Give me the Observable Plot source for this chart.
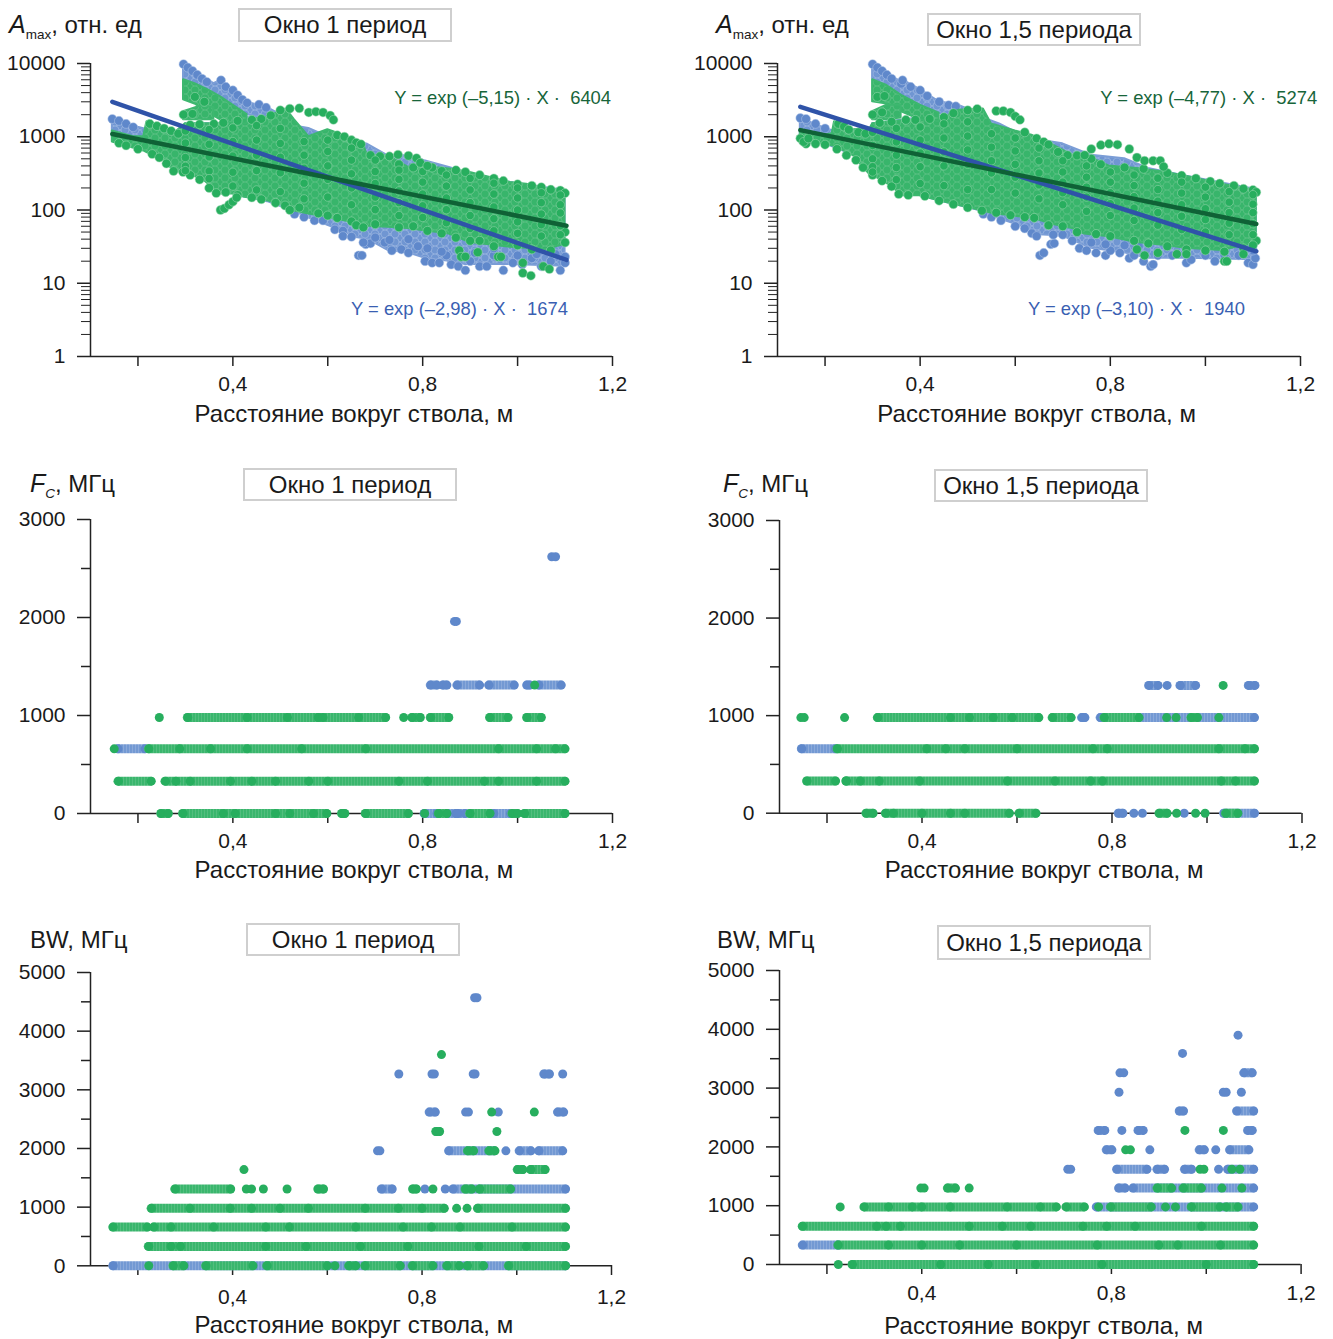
<!DOCTYPE html>
<html lang="ru"><head><meta charset="utf-8">
<script src="https://cdn.jsdelivr.net/npm/d3@7"></script>
<script src="https://cdn.jsdelivr.net/npm/@observablehq/plot@0.6"></script>
<style>
html,body{margin:0;padding:0;background:#fff;}
#page{position:relative;width:1333px;height:1339px;overflow:hidden;font-family:"Liberation Sans",Arial,sans-serif;color:#1a1a1a;}
#page svg{position:absolute;overflow:visible;background:transparent;}
.box{position:absolute;box-sizing:border-box;border:2px solid #cfcfcf;background:#fff;text-align:center;font-size:24px;z-index:2;display:flex;align-items:center;justify-content:center;}
.ylab{position:absolute;font-size:24px;white-space:nowrap;z-index:2;line-height:30px;}
.ylab>i{font-size:25px;}
.ylab sub{font-size:13.5px;vertical-align:-6px;line-height:0;}
.ylab sub i{font-size:13.5px;}
</style></head><body><div id="page"><svg width="0" height="0"><defs>
<pattern id="gCloud" width="10" height="8" patternUnits="userSpaceOnUse"><rect width="10" height="8" fill="#3db76f"/><circle cx="0" cy="0" r="4" fill="#38b56b" stroke="#6cc58f" stroke-width=".5"/><circle cx="10" cy="0" r="4" fill="#38b56b" stroke="#6cc58f" stroke-width=".5"/><circle cx="0" cy="8" r="4" fill="#38b56b" stroke="#6cc58f" stroke-width=".5"/><circle cx="10" cy="8" r="4" fill="#38b56b" stroke="#6cc58f" stroke-width=".5"/><circle cx="5" cy="4" r="4" fill="#38b56b" stroke="#6cc58f" stroke-width=".5"/></pattern>
<pattern id="bCloud" width="10" height="8" patternUnits="userSpaceOnUse"><rect width="10" height="8" fill="#7b9dd6"/><circle cx="0" cy="0" r="4" fill="#7096d2" stroke="#adc3e6" stroke-width=".5"/><circle cx="10" cy="0" r="4" fill="#7096d2" stroke="#adc3e6" stroke-width=".5"/><circle cx="0" cy="8" r="4" fill="#7096d2" stroke="#adc3e6" stroke-width=".5"/><circle cx="10" cy="8" r="4" fill="#7096d2" stroke="#adc3e6" stroke-width=".5"/><circle cx="5" cy="4" r="4" fill="#7096d2" stroke="#adc3e6" stroke-width=".5"/></pattern>
<pattern id="gStrip" width="3" height="3" patternUnits="userSpaceOnUse"><rect width="3" height="3" fill="#3ab66d"/><rect width=".7" height="3" fill="#5cc286"/></pattern>
<pattern id="bStrip" width="3" height="3" patternUnits="userSpaceOnUse"><rect width="3" height="3" fill="#7399d3"/><rect width=".7" height="3" fill="#94b0de"/></pattern>
</defs></svg></div>
<script>
const BLUE="#5f88cb",GREEN="#27ae5e",LINE_B="#2f53a8",LINE_G="#0f6236",TXT_B="#3a5fb2",TXT_G="#17653a";
const xTicks=[0.2,0.4,0.6,0.8,1.0,1.2], xLabelled=[0.4,0.8,1.2];
const xTitle="Расстояние вокруг ствола, м";
const logMajor=[1,10,100,1000,10000];
const logMinor=[2,3,4,5,6,7,8,9,20,30,40,50,60,70,80,90,200,300,400,500,600,700,800,900,2000,3000,4000,5000,6000,7000,8000,9000];

/* Amax, window 1 period: envelopes [x, high, low] */
const a1BlueEnv=[[.146,1750,1000],[.2,1350,800],[.253,1100,600],[.29,1100,400],[.3,1500,400],[.34,1500,300],[.374,1500,200],[.4,1700,170],[.425,1800,150],[.473,1900,130],[.53,1400,95],[.56,1300,78],[.6,1000,62],[.63,950,52],[.66,850,42],[.684,790,40],[.727,550,28],[.77,550,26],[.804,470,22],[.856,380,20],[.89,326,18],[.985,238,18],[1.1,185,17]];
const a1BlueBand=[[.296,9800,6000],[.33,7000,4200],[.36,5300,3200],[.375,5900,3000],[.4,4300,2400],[.43,2950,2000],[.473,2500,1800],[.5,2000,1700]];
const a1GreenEnv=[[.146,1200,850],[.19,1000,700],[.212,1000,640],[.219,1600,610],[.253,1300,480],[.279,1150,330],[.3,1500,330],[.34,1500,250],[.374,1500,165],[.4,1600,165],[.425,1700,149],[.473,1835,134],[.512,2400,115],[.53,1700,97],[.56,1000,88],[.6,1250,80],[.615,1150,76],[.64,980,70],[.675,790,62],[.684,550,60],[.727,550,58],[.77,382,56],[.804,390,52],[.856,362,47],[.9,326,36],[.985,238,31],[1.019,225,30],[1.062,195,29],[1.1,183,34]];
const a1GreenBandA=[[.296,6000,3200],[.32,5300,2800],[.35,4300,2100],[.374,3500,1700],[.4,2700,1500],[.43,2000,1500]];
const a1GreenBandB=[[.296,2200,1700],[.33,2600,1700],[.36,2500,1700]];
const a1GreenTop=[[.225,1500],[.24,1400],[.255,1300],[.27,1200],[.285,1100],[.31,1450],[.33,1480],[.36,1500],[.38,1550],[.41,1650],[.44,1700],[.46,1750],[.48,1950],[.5,2300],[.62,1050],[.635,1000],[.65,900],[.66,830],[.67,790],[.69,560],[.71,540],[.73,540],[.75,420],[.78,380],[.82,380],[.84,340],[.87,350],[.89,330],[.92,300],[.95,270],[.97,250],[1.0,225],[1.03,215],[1.05,205],[1.07,190],[1.09,185],[1.1,170]];
const a1GreenLow=[[.16,820],[.175,760],[.2,680],[.23,580],[.245,520],[.26,430],[.275,340],[.295,330],[.31,300],[.33,260],[.35,200],[.365,170],[.385,175],[.41,160],[.44,148],[.46,140],[.49,125],[.51,115],[.52,100],[.54,108],[.58,90],[.6,84],[.62,78],[.65,70],[.66,62],[.7,64],[.75,58],[.78,60],[.81,52],[.84,48],[.87,42],[.9,38],[.92,38],[.95,32],[1.0,33],[1.03,29],[1.07,28],[1.1,36],[1.1,50]];
const a1TrackX=[.3,.35,.4,.45,.5,.55,.6,.65,.7,.75,.8,.85,.9,.95,1,1.05,1.09];
const a1Track1=[1200,1250,1320,1420,1300,860,900,700,480,350,335,300,270,232,200,172,160];
const a1Track2=[820,790,860,900,810,560,630,480,335,262,240,212,188,165,146,126,118];
const a1Track3=[520,530,545,560,525,372,400,312,230,182,165,146,126,110,100,88,91];
const a1Track4=[395,340,328,345,322,232,262,200,150,126,114,101,84,76,69,63,61];
const a1Track5=[345,268,212,188,178,142,150,118,101,84,79,67,56,52,48,44,46];
const a1GreenDots=[[.52,2420],[.54,2450],[.56,2150],[.575,2200],[.59,2150],[.605,1950],[.612,1700],[.748,570],[.77,550],[.787,510],[.795,440],[.81,400],[.374,100],[.382,105],[.392,118],[.4,130],[.408,148],[.675,58],[.877,28],[.881,23],[.89,23],[.916,26.5],[.959,23],[.965,23],[1.011,19],[1.011,13.8],[1.028,12.7],[1.054,17],[1.067,15.6],[.32,3500],[.34,3000],[.296,2000],[.315,2050]];
const a1BlueDots=[[.146,1750],[.16,1650],[.175,1500],[.19,1350],[.296,9800],[.305,8800],[.315,7900],[.325,7000],[.335,6200],[.345,5600],[.375,5900],[.385,4800],[.4,4300],[.41,3700],[.42,3200],[.43,2900],[.455,2750],[.47,2500],[.665,24],[.672,24],[.68,34],[.69,35],
 [.53,88],[.55,80],[.572,72],[.59,72],[.615,54],[.632,52],[.632,44],[.65,43],[.675,36],[.7,42],[.72,36],[.735,28],[.755,29],[.77,26],[.79,32],[.805,20],[.82,19],[.835,19],[.85,24],[.86,18],[.875,17],[.89,15],[.9,20],[.92,17],[.935,17],[.95,24],[.97,15],[.99,19],[1.01,18],[1.03,22],[1.05,17],[1.07,20],[1.09,15],[1.1,19],[1.1,23],[1.08,25],[.73,39],[.77,40],[.81,30],[.84,27],[.88,26],[.91,26],[.95,30],[1,24],[1.04,25]];

/* Amax, window 1.5 periods */
const a2BlueEnv=[[.148,1800,1000],[.2,1300,800],[.26,1000,560],[.295,1100,400],[.3,1500,400],[.338,1600,300],[.363,1700,170],[.397,1800,160],[.44,1900,134],[.482,2000,115],[.533,1800,95],[.567,1500,76],[.62,1000,58],[.65,900,46],[.7,800,44],[.76,560,30],[.83,500,26],[.88,370,22],[.96,290,22],[1.107,190,21]];
const a2BlueBand=[[.3,9800,6200],[.33,7300,4800],[.36,5600,3300],[.365,5900,3400],[.4,4400,2700],[.44,3000,2100],[.48,2700,1900],[.53,2000,1700]];
const a2GreenEnv=[[.148,1250,800],[.2,1050,800],[.215,1100,750],[.22,1600,750],[.26,1250,550],[.295,1300,300],[.3,1500,300],[.338,1600,215],[.363,1650,157],[.397,1700,157],[.44,1700,134],[.482,2300,115],[.533,2400,97],[.55,1500,90],[.6,1200,82],[.635,1050,78],[.678,780,64],[.72,560,56],[.746,560,47],[.797,400,43],[.856,370,36],[.912,330,33],[.959,290,30],[1.035,225,28],[1.107,185,36]];
const a2GreenBandA=[[.3,6000,3000],[.33,5000,2800],[.36,3700,2200],[.4,2700,1700],[.44,2100,1600]];
const a2GreenBandB=[[.3,2200,1700],[.33,2700,1700],[.36,2700,1800]];
const a2GreenTop=[[.228,1500],[.24,1380],[.25,1250],[.27,1150],[.285,1100],[.315,1550],[.34,1600],[.37,1700],[.39,1700],[.42,1750],[.45,1850],[.47,2100],[.5,2300],[.52,2400],[.62,1150],[.645,950],[.66,850],[.67,780],[.69,620],[.71,560],[.73,555],[.76,500],[.78,420],[.83,380],[.87,365],[.92,320],[.95,295],[.98,270],[1.01,245],[1.03,230],[1.06,215],[1.08,195],[1.1,188],[1.107,175]];
const a2GreenLow=[[.16,800],[.18,800],[.2,780],[.225,680],[.245,560],[.265,480],[.28,380],[.3,300],[.32,250],[.34,210],[.355,165],[.375,160],[.41,155],[.44,134],[.47,120],[.5,108],[.53,98],[.56,92],[.59,85],[.62,80],[.64,78],[.67,62],[.7,60],[.73,50],[.77,47],[.8,44],[.85,38],[.88,35],[.92,32],[.96,29],[1,28],[1.04,27],[1.08,30],[1.107,38]];
const a2TrackX=[.3,.35,.4,.45,.5,.55,.6,.65,.7,.75,.8,.85,.9,.95,1,1.05,1.1];
const a2Track1=[1150,1300,1360,1500,1600,1100,960,700,470,400,330,300,272,240,205,178,162];
const a2Track2=[760,850,900,960,1020,720,640,470,330,280,240,215,190,170,150,128,120];
const a2Track3=[500,560,600,620,660,470,420,320,240,205,172,152,132,118,104,92,92];
const a2Track4=[390,380,390,400,420,320,280,220,172,150,122,106,92,82,74,66,65];
const a2Track5=[330,260,230,215,190,190,170,142,118,96,84,72,62,54,50,46,46];
const a2GreenDots=[[.56,2250],[.575,2250],[.59,2150],[.6,1900],[.61,1700],[.746,560],[.76,680],[.78,770],[.797,800],[.815,780],[.84,680],[.856,520],[.872,470],[.89,470],[.905,470],[.912,390],[.148,950],[.155,850],[.165,950],[.856,29],[.872,24],[.9,26],[.94,25],[.96,25],[1.04,20],[1.045,20],[1.08,25],[1.1,33],[.31,3500],[.325,3600],[.3,2000],[.32,2150]];
const a2BlueDots=[[.148,1800],[.16,1750],[.18,1500],[.2,1300],[.3,9800],[.31,8800],[.32,7900],[.33,7000],[.34,6200],[.36,5300],[.363,5900],[.38,4800],[.4,4300],[.415,3600],[.44,3000],[.46,2700],[.475,2600],[.652,24],[.66,26],[.675,34],[.682,35],
 [.533,88],[.55,80],[.57,72],[.6,60],[.62,56],[.635,48],[.645,44],[.68,46],[.7,46],[.72,38],[.735,30],[.75,28],[.77,26],[.79,24],[.8,28],[.82,26],[.84,22],[.85,24],[.87,20],[.885,17],[.89,18],[.86,32],[.83,33],[.9,24],[.93,24],[.96,19],[.97,21],[1,24],[1.02,20],[1.04,24],[1.07,24],[1.09,19],[1.1,18],[1.105,22],[1.1,28],[1.09,30],[.79,34],[.76,36]];

/* Fc: runs are [level, x from, x to] */
const f1BlueRuns=[[660,.158,.215],[1310,.817,.83],[1310,.843,.851],[1310,.873,.92],[1310,.94,.993],[1310,1.02,1.026],[1310,1.045,1.092],[0,.804,.83],[0,.851,.87],[0,.875,.89],[0,.95,.985]];
const f1GreenRuns=[[980,.305,.722],[980,.778,.795],[980,.817,.855],[980,.942,.98],[980,1.02,1.05],[660,.223,1.1],[330,.159,.228],[330,.258,1.1],[0,.249,.264],[0,.295,.598],[0,.63,.636],[0,.68,.77],[0,.834,.851],[0,.9,.942],[0,.989,1.0],[0,1.015,1.1]];
const f1BlueDots=[[.871,1960],[.867,1960],[1.072,2620],[1.08,2620]];
const f1GreenDots=[[.245,980],[.76,980],[1.036,1310],[.15,660],[.804,0],[.43,980],[.515,980],[.58,980],[.59,980],[.665,980],[.288,660],[.353,660],[.43,660],[.545,660],[.68,660],[.96,660],[1.04,660],[1.08,660],[.28,330],[.31,330],[.395,330],[.44,330],[.49,330],[.56,330],[.6,330],[.75,330],[.81,330],[.93,330],[.96,330],[1.04,330],[.38,0],[.405,0],[.49,0],[.52,0],[.57,0]];
const f2BlueRuns=[[1310,.878,.897],[1310,.944,.976],[1310,1.088,1.101],[980,.737,.743],[980,.776,1.1],[660,.147,.218],[0,.814,.823],[0,1.036,1.1]];
const f2GreenRuns=[[980,.307,.646],[980,.675,.714],[980,.784,.857],[980,.967,.98],[660,.222,1.1],[330,.158,.218],[330,.241,1.1],[0,.283,.297],[0,.324,.584],[0,.605,.64],[0,.9,.916],[0,1.04,1.065]];
const f2BlueDots=[[.916,1310],[.846,0],[.864,0],[.952,0]];
const f2GreenDots=[[.145,980],[.152,980],[.237,980],[1.034,1310],[.915,980],[.935,980],[1.025,980],[.936,0],[.976,0],[.996,0],[.46,980],[.5,980],[.55,980],[.59,980],[.41,660],[.45,660],[.49,660],[.6,660],[.76,660],[.79,660],[1.025,660],[1.08,660],[.24,330],[.27,330],[.31,330],[.395,330],[.58,330],[.68,330],[.755,330],[.78,330],[1.03,330],[1.06,330],[.34,0],[.4,0],[.46,0],[.49,0]];

/* BW */
const b1BlueRuns=[[0,.148,1.103],[1310,.715,.737],[1310,.866,1.103],[1960,.857,.952],[1960,1.006,1.03],[1960,1.047,1.097],[2620,.816,.828],[2620,1.087,1.099],[3270,1.058,1.069]];
const b1GreenRuns=[[0,.275,.297],[0,.344,.443],[0,.473,.6],[0,.646,.66],[0,.68,.754],[0,.78,.823],[0,.853,.879],[0,.896,.93],[0,.983,1.103],[330,.223,1.103],[660,.148,.22],[660,.234,1.103],[980,.229,.847],[980,.918,1.103],[1310,.279,.396],[1310,.581,.592],[1310,.781,.788],[1310,.892,.905],[1310,.922,.987],[1640,1.002,1.013],[1640,1.03,1.06],[1960,.897,.909],[1960,.942,.954],[2290,.83,.837]];
const b1BlueDots=[[.911,4570],[.916,4570],[.751,3270],[.821,3270],[.826,3270],[.908,3270],[.912,3270],[1.097,3270],[.892,2620],[.898,2620],[.961,2620],[.706,1960],[.711,1960],[.977,1960],[.806,1310],[.849,1310]];
const b1GreenDots=[[.841,3600],[.947,2620],[1.037,2620],[.958,2290],[.424,1640],[.429,1310],[.44,1310],[.465,1310],[.515,1310],[.823,1310],[.873,980],[.895,980],[.223,0],[.616,0],[.31,980],[.395,980],[.44,980],[.5,980],[.56,980],[.68,980],[.75,980],[.8,980],[.27,660],[.36,660],[.47,660],[.52,660],[.66,660],[.76,660],[.82,660],[.88,660],[.99,660],[.27,330],[.29,330],[.47,330],[.555,330],[.67,330],[.77,330],[.92,330],[1.02,330]];
const b2BlueRuns=[[330,.149,.224],[980,.769,1.1],[1300,.816,.829],[1300,.846,1.1],[1620,.812,.875],[1620,.897,.912],[1620,.955,.969],[1620,1.046,1.1],[1950,.79,.801],[1950,.986,.996],[1950,1.05,1.09],[2280,.773,.786],[2280,.857,.867],[2280,1.088,1.097],[2610,.944,.952],[2610,1.065,1.1],[3260,1.08,1.097]];
const b2GreenRuns=[[0,.254,1.1],[330,.224,1.1],[650,.149,1.1],[980,.279,.684],[980,.705,.743],[980,.799,.884],[980,.969,1.029],[980,1.042,1.067],[1300,.455,.471],[1300,.897,.927],[1300,.952,.99]];
const b2BlueDots=[[1.067,3900],[.95,3590],[.818,3260],[.826,3260],[.816,2930],[1.036,2930],[1.042,2930],[1.074,2930],[.822,2280],[.881,1950],[1.02,1950],[.708,1620],[.714,1620],[1.026,1620]];
const b2GreenDots=[[.955,2280],[1.036,2280],[.83,1950],[.84,1950],[.987,1620],[.995,1620],[1.054,1620],[1.071,1620],[.398,1300],[.405,1300],[.5,1300],[1.033,1300],[1.075,1300],[.228,980],[.773,980],[.914,980],[.935,980],[.224,0],[.33,980],[.38,980],[.4,980],[.46,980],[.58,980],[.65,980],[.305,650],[.325,650],[.355,650],[.5,650],[.57,650],[.63,650],[.74,650],[.79,650],[.85,650],[.99,650],[.33,330],[.4,330],[.48,330],[.6,330],[.77,330],[.9,330],[.94,330],[1.03,330],[.44,0],[.54,0],[.64,0],[.78,0],[1.0,0]];

const fmtX=d=>xLabelled.includes(d)?d.toFixed(1).replace(".",","):"";
const R=4.5;

function axes(c){
  return [
    Plot.ruleY([c.yDomain[0]],{stroke:"#222",strokeWidth:1.5}),
    Plot.ruleX([0.1],{stroke:"#222",strokeWidth:1.5}),
    Plot.axisX(xTicks,{anchor:"bottom",tickSize:10,tickPadding:c.tickPad,tickFormat:fmtX,stroke:"#222",strokeWidth:1.5,label:null,fontSize:21,fill:"#1a1a1a"}),
    Plot.axisY(c.major,{anchor:"left",tickSize:13,tickPadding:12,tickFormat:d=>String(d),stroke:"#222",strokeWidth:1.5,label:null,fontSize:21,fill:"#1a1a1a"}),
    Plot.axisY(c.minor,{anchor:"left",tickSize:9,tickFormat:()=>"",stroke:"#222",strokeWidth:c.log?1:1.5,label:null}),
    Plot.text([{x:c.titleX}],{x:"x",frameAnchor:"bottom",dy:c.titleDy,text:()=>xTitle,fontSize:24,fill:"#1a1a1a",lineAnchor:"middle"})
  ];
}
function ampMarks(c){
  const area=(rows,col)=>Plot.areaY(rows,{x:d=>d[0],y1:d=>d[1],y2:d=>d[2],fill:`url(#${col}Cloud)`,stroke:col==="g"?"#3db76f":"#7b9dd6",strokeWidth:2,strokeLinejoin:"round"});
  const gdots=rows=>Plot.dot(rows,{x:d=>d[0],y:d=>d[1],r:R,fill:GREEN,stroke:"#a6dcbb",strokeWidth:.5});
  const trackDots=ys=>Plot.dot(c.trackX.map((x,i)=>({x,y:ys[i]})),{x:"x",y:"y",r:4.2,fill:GREEN,stroke:"#8ed3a8",strokeWidth:.6});
  return [
    ...axes(c),
    area(c.blueEnv,"b"),area(c.blueBand,"b"),
    Plot.dot(c.blueDots,{x:d=>d[0],y:d=>d[1],r:R,fill:BLUE,stroke:"#b5c9e8",strokeWidth:.5}),
    area(c.greenEnv,"g"),area(c.greenBandA,"g"),area(c.greenBandB,"g"),
    gdots(c.greenTop),gdots(c.greenLow),
    ...c.tracks.map(trackDots),
    gdots(c.greenDots),
    Plot.line(c.lineB,{x:d=>d[0],y:d=>d[1],stroke:LINE_B,strokeWidth:4.5}),
    Plot.line(c.lineG,{x:d=>d[0],y:d=>d[1],stroke:LINE_G,strokeWidth:4.5}),
    Plot.text([c.eqG],{x:d=>d[0],y:d=>d[1],text:d=>d[2],textAnchor:"end",fill:TXT_G,fontSize:18.4}),
    Plot.text([c.eqB],{x:d=>d[0],y:d=>d[1],text:d=>d[2],textAnchor:"end",fill:TXT_B,fontSize:18.4})
  ];
}
function stripMarks(c){
  const ribbons=(rows,id)=>Plot.ruleY(rows,{y:d=>d[0],x1:d=>d[1],x2:d=>d[2],stroke:`url(#${id})`,strokeWidth:9,strokeLinecap:"round"});
  return [
    ...axes(c),
    ribbons(c.blueRuns,"bStrip"),
    Plot.dot(c.blueRuns,{x:d=>d[1],y:d=>d[0],r:R,fill:BLUE}),
    Plot.dot(c.blueRuns,{x:d=>d[2],y:d=>d[0],r:R,fill:BLUE}),
    Plot.dot(c.blueDots,{x:d=>d[0],y:d=>d[1],r:R,fill:BLUE}),
    ribbons(c.greenRuns,"gStrip"),
    Plot.dot(c.greenRuns,{x:d=>d[1],y:d=>d[0],r:R,fill:GREEN}),
    Plot.dot(c.greenRuns,{x:d=>d[2],y:d=>d[0],r:R,fill:GREEN}),
    Plot.dot(c.greenDots,{x:d=>d[0],y:d=>d[1],r:R,fill:GREEN})
  ];
}
const page=document.getElementById("page");
function draw(c,marks){
  const mL=c.side==="L"?c.x0:85, left=c.x0-mL, mT=25, mR=c.side==="L"?20:Math.max(1333-c.x1-1,0);
  const plot=Plot.plot({
    width:Math.round(mL+(c.x1-c.x0)+mR),height:Math.round(mT+(c.yBot-c.yTop)+c.mB),
    marginLeft:mL,marginRight:mR,marginTop:mT,marginBottom:c.mB,
    style:{fontFamily:'"Liberation Sans",Arial,sans-serif',background:"transparent",overflow:"visible"},
    x:{domain:[0.1,1.2]},
    y:c.log?{type:"log",domain:c.yDomain,range:[mT+(c.yBot-c.yTop),mT]}:{domain:c.yDomain,range:[mT+(c.yBot-c.yTop),mT]},
    marks
  });
  plot.style.left=left+"px"; plot.style.top=(c.yTop-mT)+"px";
  page.appendChild(plot);
}
function box(text,l,t,w,h){const d=document.createElement("div");d.className="box";d.style.cssText=`left:${l}px;top:${t}px;width:${w}px;height:${h}px`;d.textContent=text;page.appendChild(d);}
function ylab(html,l,t){const d=document.createElement("div");d.className="ylab";d.style.cssText=`left:${l}px;top:${t}px`;d.innerHTML=html;page.appendChild(d);}

const logCfg={log:true,yDomain:[1,10000],major:logMajor,minor:logMinor,yTop:63,yBot:356,tickPad:10,titleDy:58,mB:70};
const a1={...logCfg,side:"L",x0:90,x1:612,titleX:.655,blueEnv:a1BlueEnv,blueBand:a1BlueBand,greenEnv:a1GreenEnv,greenBandA:a1GreenBandA,greenBandB:a1GreenBandB,greenTop:a1GreenTop,greenLow:a1GreenLow,blueDots:a1BlueDots,greenDots:a1GreenDots,trackX:a1TrackX,tracks:[a1Track1,a1Track2,a1Track3,a1Track4,a1Track5],lineB:[[.146,3000],[1.103,20.8]],lineG:[[.146,1090],[1.103,61]],eqG:[1.197,3327,"Y = exp (–5,15) · X ·  6404"],eqB:[1.106,4.38,"Y = exp (–2,98) · X ·  1674"]};
const a2={...logCfg,side:"R",x0:777,x1:1300,titleX:.645,blueEnv:a2BlueEnv,blueBand:a2BlueBand,greenEnv:a2GreenEnv,greenBandA:a2GreenBandA,greenBandB:a2GreenBandB,greenTop:a2GreenTop,greenLow:a2GreenLow,blueDots:a2BlueDots,greenDots:a2GreenDots,trackX:a2TrackX,tracks:[a2Track1,a2Track2,a2Track3,a2Track4,a2Track5],lineB:[[.148,2565],[1.107,27.3]],lineG:[[.148,1232],[1.107,64.4]],eqG:[1.235,3327,"Y = exp (–4,77) · X ·  5274"],eqB:[1.083,4.38,"Y = exp (–3,10) · X ·  1940"]};
draw(a1,ampMarks(a1)); draw(a2,ampMarks(a2));

const fTicks={major:[0,1000,2000,3000],minor:[500,1500,2500],yDomain:[0,3000],tickPad:10,titleDy:57,mB:70};
const f1={...fTicks,side:"L",x0:90,x1:612,yTop:518.7,yBot:812.7,titleX:.655,blueRuns:f1BlueRuns,greenRuns:f1GreenRuns,blueDots:f1BlueDots,greenDots:f1GreenDots};
const f2={...fTicks,side:"R",x0:779,x1:1301.5,yTop:520,yBot:812.7,titleX:.657,blueRuns:f2BlueRuns,greenRuns:f2GreenRuns,blueDots:f2BlueDots,greenDots:f2GreenDots};
draw(f1,stripMarks(f1)); draw(f2,stripMarks(f2));

const bTicks={major:[0,1000,2000,3000,4000,5000],minor:[500,1500,2500,3500,4500],yDomain:[0,5000],mB:74};
const b1={...bTicks,side:"L",x0:90,x1:611,yTop:971.7,yBot:1265,tickPad:14,titleDy:60,titleX:.656,blueRuns:b1BlueRuns,greenRuns:b1GreenRuns,blueDots:b1BlueDots,greenDots:b1GreenDots};
const b2={...bTicks,side:"R",x0:779,x1:1300.6,yTop:970.3,yBot:1264.3,tickPad:11,titleDy:62,titleX:.657,blueRuns:b2BlueRuns,greenRuns:b2GreenRuns,blueDots:b2BlueDots,greenDots:b2GreenDots};
draw(b1,stripMarks(b1)); draw(b2,stripMarks(b2));

box("Окно 1 период",238,8,214,34); box("Окно 1,5 периода",927,13,214,33);
box("Окно 1 период",243,468,214,33); box("Окно 1,5 периода",934,469,214,33);
box("Окно 1 период",246,923,214,33); box("Окно 1,5 периода",937,925,214,35);
const amaxLab="<i>A</i><sub>max</sub>, отн. ед", fcLab="<i>F</i><sub><i>C</i></sub>, МГц", bwLab="BW, МГц";
ylab(amaxLab,9,9); ylab(amaxLab,716,9);
ylab(fcLab,30,468); ylab(fcLab,723,468);
ylab(bwLab,30,925); ylab(bwLab,717,925);
</script></body></html>
